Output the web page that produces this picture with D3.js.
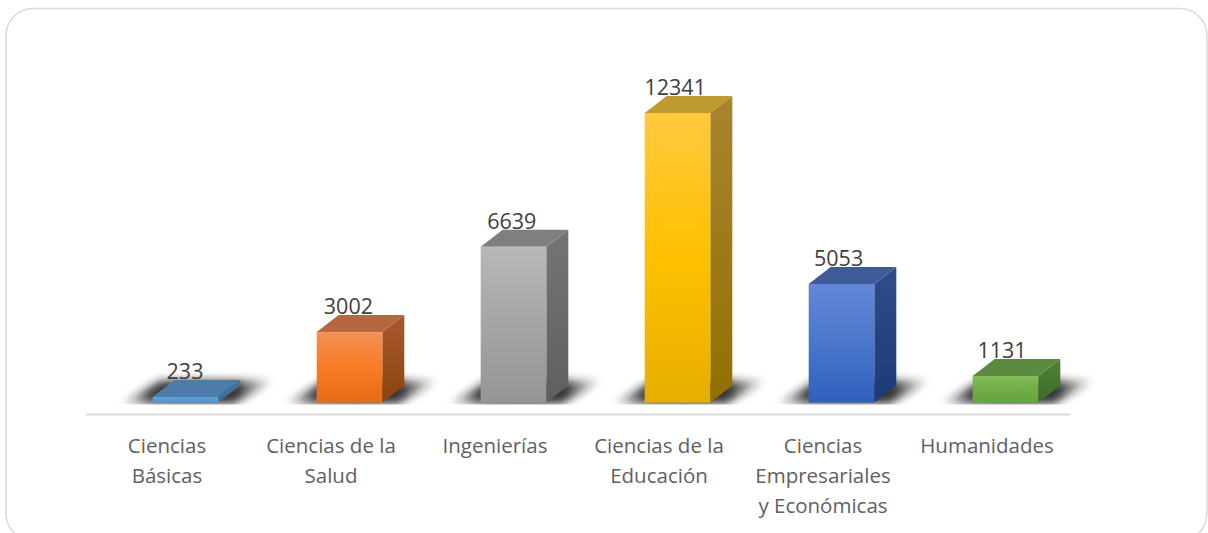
<!DOCTYPE html>
<html>
<head>
<meta charset="utf-8">
<script src="https://cdn.jsdelivr.net/npm/d3@7"></script>
<style>
html,body{margin:0;padding:0;background:#fff;overflow:hidden}
svg{display:block}
text{font-family:"Open Sans",sans-serif}
</style>
</head>
<body>
<svg id="drawing_region"></svg>
<script>
const categories = ["Ciencias Básicas","Ciencias de la Salud","Ingenierías","Ciencias de la Educación","Ciencias Empresariales y Económicas","Humanidades"]
const tick_lines = [["Ciencias","Básicas"],["Ciencias de la","Salud"],["Ingenierías"],["Ciencias de la","Educación"],["Ciencias","Empresariales","y Económicas"],["Humanidades"]]
const values = [233,3002,6639,12341,5053,1131]

// front gradient (top, middle, bottom), then top face, then side gradient
const front_colors = [["#5ea3e0","#5b9bd5","#4f93d2"],["#f59056","#f97b24","#e66c16"],["#b8b8b8","#a5a5a5","#959595"],["#ffc93f","#ffc000","#e6ae00"],["#6388d6","#4a76cb","#2f60bd"],["#84bd5a","#70ad47","#64a53c"]]
const top_colors = ["#4d7cab","#b5683f","#7f7f7f","#bf9a30","#3f5a98","#5a8a40"]
const side_colors = [["#44749f","#3b6a96"],["#a8592f","#8a440f"],["#757575","#5f5f5f"],["#a98430","#927000"],["#2f4d8a","#1e3a76"],["#4f7f36","#3f6d29"]]

const config = {
    width:1208,
    height:533,
    depth:{x:22,y:17},
    bar_offset:17.5,
    base:402.5,
    axis_y:414
}

const svg = d3.select("#drawing_region")
    .attr("width",config.width)
    .attr("height",config.height)

svg.append("rect")
    .attr("x",6)
    .attr("y",8.5)
    .attr("width",1201)
    .attr("height",532)
    .attr("rx",27)
    .attr("fill","#fff")
    .attr("stroke","#d9d9d9")
    .attr("stroke-width",1.5)

const x = d3.scaleBand()
    .domain(categories)
    .range([86,1070])
    .paddingInner(0.6)
    .paddingOuter(0.3)

// value labels drift a little left of the bars in the original
const label_x = d3.scalePoint()
    .domain(categories)
    .range([185,1002])

const y = d3.scaleLinear()
    .domain([0,12341])
    .range([config.base,113])

const defs = svg.append("defs")
const blur = defs.append("filter")
    .attr("id","shadow_blur")
    .attr("x","-20%").attr("y","-50%")
    .attr("width","140%").attr("height","200%")
blur.append("feGaussianBlur").attr("stdDeviation",4)

defs.append("clipPath").attr("id","floor_clip")
    .append("rect")
    .attr("x",0)
    .attr("y",config.base-40)
    .attr("width",config.width)
    .attr("height",42)

const shadow_fade = defs.append("linearGradient").attr("id","shadow_fade")
;[[0,0],[0.2,0.85],[0.45,0.95],[0.75,0.9],[1,0]].forEach(s=>{
    shadow_fade.append("stop")
        .attr("offset",s[0])
        .attr("stop-color","#1c1c1c")
        .attr("stop-opacity",s[1])
})

function gradient(id,colors){
    const g = defs.append("linearGradient")
        .attr("id",id)
        .attr("x1",0).attr("y1",0)
        .attr("x2",0).attr("y2",1)
    colors.forEach((c,i)=>{
        g.append("stop").attr("offset",i/(colors.length-1)).attr("stop-color",c)
    })
}
categories.forEach((c,i)=>{
    gradient(`front${i}`,front_colors[i])
    gradient(`side${i}`,side_colors[i])
})

// axis
const axis = svg.append("g")
    .attr("transform",`translate(0,${config.axis_y})`)
    .call(d3.axisBottom(x).tickSize(0).tickPadding(0))
axis.select(".domain")
    .attr("stroke","#d9d9d9")
    .attr("stroke-width",2)
axis.selectAll(".tick text").each(function(d,i){
    const t = d3.select(this)
    t.text(null)
        .attr("y",0)
        .attr("dy",null)
        .attr("font-size",20.5)
        .attr("fill","#606060")
        .attr("font-family","'Open Sans',sans-serif")
    tick_lines[i].forEach((line,j)=>{
        t.append("tspan")
            .attr("x",-1)
            .attr("y",39+j*30)
            .text(line)
    })
})

// floor shadows
const bar_x = d=>x(d)+config.bar_offset
const w = x.bandwidth()
const bars = svg.append("g").selectAll("g")
    .data(categories)
    .join("g")

bars.append("g")
    .attr("clip-path","url(#floor_clip)")
    .append("path")
    .attr("d",d=>{
        const l = bar_x(d)
        const r = l+w
        return `M${l-32},${config.base+1}L${l+8},${config.base-22}L${r+56},${config.base-22}L${r+16},${config.base+1}Z`
    })
    .attr("fill","url(#shadow_fade)")
    .attr("filter","url(#shadow_blur)")

// side, top and front faces
bars.append("path")
    .attr("d",d=>{
        const r = bar_x(d)+w
        const t = y(values[categories.indexOf(d)])
        return `M${r},${t}L${r+config.depth.x},${t-config.depth.y}L${r+config.depth.x},${config.base-config.depth.y}L${r},${config.base}Z`
    })
    .attr("fill",(d,i)=>`url(#side${i})`)

bars.append("path")
    .attr("d",d=>{
        const l = bar_x(d)
        const t = y(values[categories.indexOf(d)])
        return `M${l},${t}L${l+config.depth.x},${t-config.depth.y}L${l+w+config.depth.x},${t-config.depth.y}L${l+w},${t}Z`
    })
    .attr("fill",(d,i)=>top_colors[i])

bars.append("rect")
    .attr("x",d=>bar_x(d))
    .attr("y",(d,i)=>y(values[i]))
    .attr("width",w)
    .attr("height",(d,i)=>config.base-y(values[i]))
    .attr("fill",(d,i)=>`url(#front${i})`)

// value labels
bars.append("text")
    .attr("x",d=>label_x(d))
    .attr("y",(d,i)=>y(values[i])-config.depth.y-1)
    .attr("text-anchor","middle")
    .attr("font-size",21.5)
    .attr("fill","#404040")
    .text((d,i)=>values[i])
</script>
</body>
</html>
